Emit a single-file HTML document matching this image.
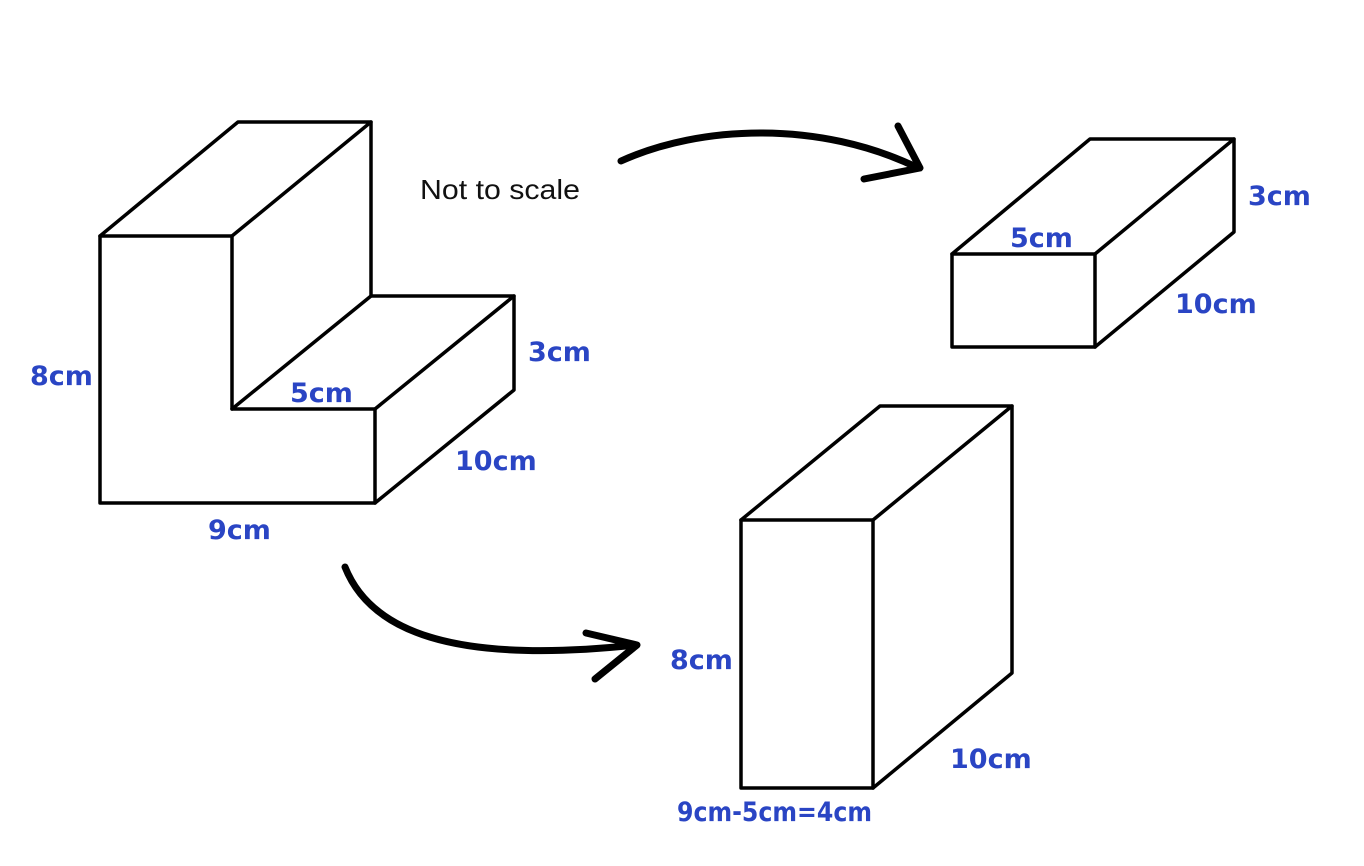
<!DOCTYPE html>
<html><head><meta charset="utf-8"><style>
html,body{margin:0;padding:0;background:#fff;}
svg{display:block;}
.l{font-family:"DejaVu Sans","Liberation Sans",sans-serif;font-size:27px;fill:#2a45c4;font-weight:600;}
</style></head><body>
<svg width="1364" height="866" viewBox="0 0 1364 866" xmlns="http://www.w3.org/2000/svg">
<g fill="none" stroke="#000" stroke-width="3.5" stroke-linejoin="round" stroke-linecap="round">
<path d="M100,236 L100,503 L375,503 L375,409 L232,409 L232,236 Z"/>
<path d="M100,236 L238,122 L371,122 L232,236"/>
<path d="M371,122 L371,296"/>
<path d="M232,409 L371,296 L514,296 L375,409"/>
<path d="M514,296 L514,390 L375,503"/>
<path d="M952,254 L1095,254 L1095,347 L952,347 Z"/>
<path d="M952,254 L1090,139 L1234,139 L1095,254"/>
<path d="M1234,139 L1234,232 L1095,347"/>
<path d="M741,520 L873,520 L873,788 L741,788 Z"/>
<path d="M741,520 L880,406 L1012,406 L873,520"/>
<path d="M1012,406 L1012,673 L873,788"/>
</g>
<g fill="none" stroke="#000" stroke-width="7" stroke-linecap="round" stroke-linejoin="round">
<path d="M621,161 C700,125 820,120 918,168"/>
<path d="M898,126 L920,168 L864,179"/>
<path d="M345,567 C370,630 450,665 636,645"/>
<path d="M586,633 L637,645 L595,679"/>
</g>
<text x="420" y="199" font-family="Liberation Sans, sans-serif" font-size="28" fill="#111" textLength="160" lengthAdjust="spacingAndGlyphs">Not to scale</text>
<text class="l" x="30" y="385">8cm</text>
<text class="l" x="290" y="402">5cm</text>
<text class="l" x="528" y="361">3cm</text>
<text class="l" x="455" y="470">10cm</text>
<text class="l" x="208" y="539">9cm</text>
<text class="l" x="1248" y="205">3cm</text>
<text class="l" x="1010" y="247">5cm</text>
<text class="l" x="1175" y="313">10cm</text>
<text class="l" x="670" y="669">8cm</text>
<text class="l" x="950" y="768">10cm</text>
<text class="l" x="677" y="821" font-weight="bold" font-size="25" textLength="195" lengthAdjust="spacingAndGlyphs">9cm-5cm=4cm</text>
</svg>
</body></html>
